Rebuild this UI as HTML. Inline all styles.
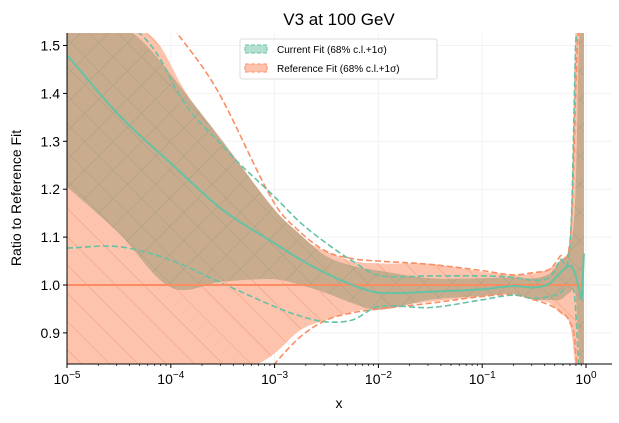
<!DOCTYPE html>
<html><head><meta charset="utf-8"><style>
html,body{margin:0;padding:0;background:#fff;overflow:hidden;width:619px;height:423px;}
svg{display:block;font-family:"Liberation Sans","DejaVu Sans",sans-serif;}
</style></head><body>
<svg id="chart" width="619" height="423" viewBox="0 0 619 423"></svg>
<script>
const logX=[-5,-4.5,-4,-3.5,-3,-2.75,-2.5,-2.25,-2,-1.5,-1,-0.7,-0.5,-0.35,-0.25,-0.15,-0.1,-0.06,-0.04,-0.02];
const curMid=[1.48,1.355,1.254,1.157,1.087,1.053,1.024,1.0,0.984,0.986,0.991,0.998,0.995,1.003,1.025,1.04,1.02,0.985,0.975,1.066];
const curUp=[1.75,1.58,1.44,1.30,1.157,1.105,1.06,1.04,1.03,1.014,1.014,1.016,1.014,1.024,1.05,1.085,1.2,1.6,1.6,1.6];
const curLo=[1.205,1.108,0.995,1.007,1.012,1.0,0.983,0.962,0.948,0.969,0.977,0.981,0.969,0.969,0.969,0.985,0.98,0.8,0.6,0.6];
const refMid=[1,1,1,1,1,1,1,1,1,1,1,1,1,1,1,1,1,1,1,1];
const refUp=[2.0,1.75,1.46,1.296,1.157,1.1,1.07,1.05,1.045,1.044,1.028,1.021,1.024,1.035,1.052,1.094,1.6,1.8,1.8,1.8];
const refLo=[0.5,0.55,0.65,0.78,0.857,0.906,0.927,0.944,0.952,0.965,0.976,0.981,0.969,0.962,0.941,0.913,0.8,0.6,0.6,0.6];
const refDashUp=[2.2,1.9,1.58,1.386,1.17,1.11,1.07,1.055,1.05,1.043,1.03,1.021,1.026,1.033,1.06,1.1,1.4,1.8,1.8,1.8];
const refDashLo=[0.5,0.5,0.55,0.7,0.835,0.892,0.927,0.942,0.95,0.962,0.976,0.98,0.969,0.958,0.945,0.92,0.86,0.6,0.5,0.5];
const curDashUp=[2.0,1.75,1.43,1.29,1.184,1.13,1.087,1.05,1.02,1.019,1.019,1.016,1.01,1.017,1.052,1.094,1.5,1.8,1.8,1.8];
const curDashLo=[1.077,1.08,1.052,1.003,0.955,0.935,0.923,0.927,0.955,0.953,0.969,0.979,0.972,0.976,0.983,1.0,0.95,0.7,0.6,0.6];
const xTicks=[-5,-4,-3,-2,-1,0];
const yTicks=[0.9,1.0,1.1,1.2,1.3,1.4,1.5];

const L=67,R=612,T=33,B=364;
const X=v=>67+(v+5)*103.8;
const Y=v=>285-(v-1)*479;
const NS="http://www.w3.org/2000/svg";
const svg=document.getElementById('chart');
function mk(tag,attrs,parent){const e=document.createElementNS(NS,tag);for(const k in attrs)e.setAttribute(k,attrs[k]);(parent||svg).appendChild(e);return e;}
svg.innerHTML=`<defs>
<clipPath id="clip"><rect x="${L}" y="${T}" width="${R-L}" height="${B-T}"/></clipPath>
<pattern id="hatchRef" width="20" height="20" patternUnits="userSpaceOnUse" patternTransform="rotate(-45)"><line x1="0" y1="0" x2="0" y2="20" stroke="#f4845a" stroke-width="0.9" stroke-opacity="0.75"/></pattern>
<pattern id="hatchCur" width="20" height="20" patternUnits="userSpaceOnUse" patternTransform="rotate(45)"><line x1="0" y1="0" x2="0" y2="20" stroke="#8e9a78" stroke-width="0.8" stroke-opacity="0.75"/><line x1="0" y1="0" x2="20" y2="0" stroke="#8e9a78" stroke-width="0.8" stroke-opacity="0.75"/></pattern>
</defs>`;
function pts(arr){return arr.map((v,i)=>[X(logX[i]),Y(v)]);}
const cl=y=>Math.max(T-8,Math.min(B+8,y));
function smooth(p,start){let d=(start?'M':'L')+p[0][0].toFixed(1)+','+cl(p[0][1]).toFixed(1);
 for(let i=0;i<p.length-1;i++){const p0=p[Math.max(0,i-1)],p1=p[i],p2=p[i+1],p3=p[Math.min(p.length-1,i+2)];
  const h=p2[0]-p1[0];
  const s1=(p2[1]-p0[1])/((p2[0]-p0[0])||1),s2=(p3[1]-p1[1])/((p3[0]-p1[0])||1);
  const c1=[p1[0]+h/3,cl(p1[1]+s1*h/3)],c2=[p2[0]-h/3,cl(p2[1]-s2*h/3)];
  d+='C'+c1.map(n=>n.toFixed(1))+' '+c2.map(n=>n.toFixed(1))+' '+p2[0].toFixed(1)+','+cl(p2[1]).toFixed(1);}
 return d;}
function line(arr){return smooth(pts(arr),true);}
function band(up,lo){return smooth(pts(up),true)+smooth(pts(lo).reverse(),false)+'Z';}
const g=mk('g',{'clip-path':'url(#clip)'});


xTicks.forEach(t=>mk('line',{x1:X(t),x2:X(t),y1:T,y2:B,stroke:'#f2f2f2','stroke-width':1},g));
yTicks.forEach(t=>mk('line',{x1:L,x2:R,y1:Y(t),y2:Y(t),stroke:'#f2f2f2','stroke-width':1},g));
let e;
e=mk('path',{d:band(refUp,refLo),fill:'#fdc3ad'},g);


mk('path',{d:band(refUp,refLo),fill:'url(#hatchRef)'},g);
e=mk('path',{d:band(curUp,curLo),fill:'#c9ab8e'},g);


mk('path',{d:band(curUp,curLo),fill:'url(#hatchCur)'},g);
[[refDashUp,'#fc8d62'],[refDashLo,'#fc8d62'],[curDashUp,'#66c2a5'],[curDashLo,'#66c2a5']].forEach(([a,c])=>{
 e=mk('path',{d:line(a),fill:'none',stroke:c,'stroke-width':1.6,'stroke-dasharray':'6,3'},g);
 
 
});
e=mk('path',{d:line(refMid),fill:'none',stroke:'#fc8d62','stroke-width':2},g);


e=mk('path',{d:line(curMid),fill:'none',stroke:'#66c2a5','stroke-width':2},g);


mk('line',{x1:L,x2:L,y1:T,y2:B,stroke:'#000','stroke-width':1});
mk('line',{x1:L,x2:R,y1:B,y2:B,stroke:'#000','stroke-width':1});
xTicks.forEach(t=>{
 mk('line',{x1:X(t),x2:X(t),y1:B,y2:B+4,stroke:'#000'});
 const tx=mk('text',{x:X(t),y:B+20,'text-anchor':'middle','font-size':14});
 
 
 tx.innerHTML='10<tspan dy="-6" font-size="10">'+(t===0?'0':'\u2212'+(-t))+'</tspan>';
 if(t<0)for(let k=2;k<10;k++){const xx=X(t+Math.log10(k));mk('line',{x1:xx,x2:xx,y1:B,y2:B+2,stroke:'#000','stroke-width':0.7});}
});
yTicks.forEach(t=>{
 mk('line',{x1:L-4,x2:L,y1:Y(t),y2:Y(t),stroke:'#000'});
 const tx=mk('text',{x:L-7,y:Y(t)+5,'text-anchor':'end','font-size':14});
 
 
 tx.textContent=t.toFixed(1);
});
e=mk('text',{x:339,y:408,'text-anchor':'middle','font-size':14});


e.textContent='x';
e=mk('text',{x:0,y:0,'text-anchor':'middle','font-size':14,transform:'translate(21,198) rotate(-90)'});


e.textContent='Ratio to Reference Fit';
e=mk('text',{x:339,y:25,'text-anchor':'middle','font-size':17});


e.textContent='V3 at 100 GeV';
const lg=mk('g',{});


mk('rect',{x:240,y:39,width:197,height:40,fill:'#fff',stroke:'#ddd',rx:2},lg);
[['Current Fit (68% c.l.+1σ)','#66c2a5','#b3e0d2'],['Reference Fit (68% c.l.+1σ)','#fc8d62','#fdc3ad']].forEach(([s,c,f],i)=>{
 const y=45+i*19;
 const r=mk('rect',{x:245,y:y,width:22,height:8,fill:f,stroke:c,'stroke-dasharray':'4,2'},lg);
 
 
 const t=mk('text',{x:277,y:y+8,'font-size':10},lg);
 
 
 t.textContent=s;
});
</script>
</body></html>
